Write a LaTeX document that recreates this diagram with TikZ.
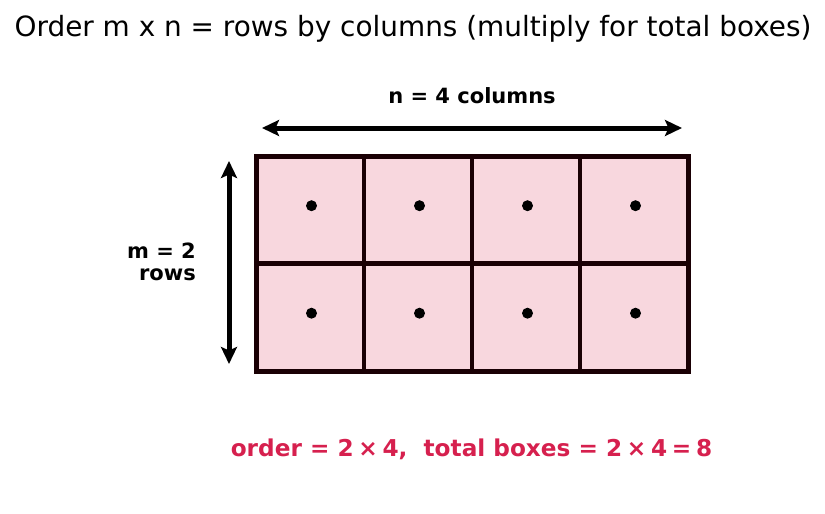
\documentclass[tikz,border=0pt]{standalone}
\usepackage{fontspec}
\setmainfont{DejaVu Sans}
\usetikzlibrary{arrows.meta}
\definecolor{cellfill}{HTML}{F8D7DE}
\definecolor{gridline}{HTML}{1A0004}
\definecolor{crim}{HTML}{D6204E}
\tikzset{
  cellbox/.style={draw=gridline, line width=4.5pt, fill=cellfill, inner sep=0pt, outer sep=0pt, anchor=north west},
  dotmark/.style={circle, fill=black, inner sep=0pt, minimum size=11pt},
  dimarrow/.style={line width=5pt, {Stealth[length=17pt,width=16pt,inset=3.5pt]}-{Stealth[length=17pt,width=16pt,inset=3.5pt]}},
  lbl/.style={font=\bfseries\fontsize{21}{22.4}\selectfont, inner sep=0pt}
}
\begin{document}
\begin{tikzpicture}[x=1pt,y=-1pt]
\useasboundingbox (0,0) rectangle (825,514);
\node[inner sep=0pt, anchor=base, font=\fontsize{27.9}{32}\selectfont] (title) at (413,36) {Order m x n = rows by columns (multiply for total boxes)};
% grid cells
\foreach \i in {0,...,3}{
  \foreach \j in {0,...,1}{
    \pgfmathsetmacro{\xa}{256+\i*108}
    \pgfmathsetmacro{\ya}{156+\j*107.5}
    \pgfmathsetmacro{\xd}{\xa+55.5}
    \pgfmathsetmacro{\yd}{\ya+49.7}
    \node[cellbox, minimum width=108pt, minimum height=107.5pt] (c\i\j) at (\xa,\ya) {};
    \node[dotmark] (d\i\j) at (\xd,\yd) {};
  }
}
\draw[gridline, line width=5pt] (c00.north west) rectangle (c31.south east);
% arrows
\coordinate (hl) at (262,128);
\coordinate (hr) at (682,128);
\draw[dimarrow] (hl) -- (hr);
\coordinate (vt) at (229,161);
\coordinate (vb) at (229,364);
\draw[dimarrow] (vt) -- (vb);
\node[lbl, anchor=base] (ncol) at (472,103.3) {n = 4 columns};
\node[lbl, align=right, anchor=base east] (mrow) at (196,280.7) {m = 2\\rows};
\node[inner sep=0pt, anchor=base, text=crim, font=\bfseries\fontsize{23.2}{27}\selectfont] (order) at (471.5,456) {order = 2\kern4.7pt×\kern4.7pt4,\ \ total boxes = 2\kern4.7pt×\kern4.7pt4\kern4.7pt=\kern4.7pt8};
\end{tikzpicture}
\end{document}
